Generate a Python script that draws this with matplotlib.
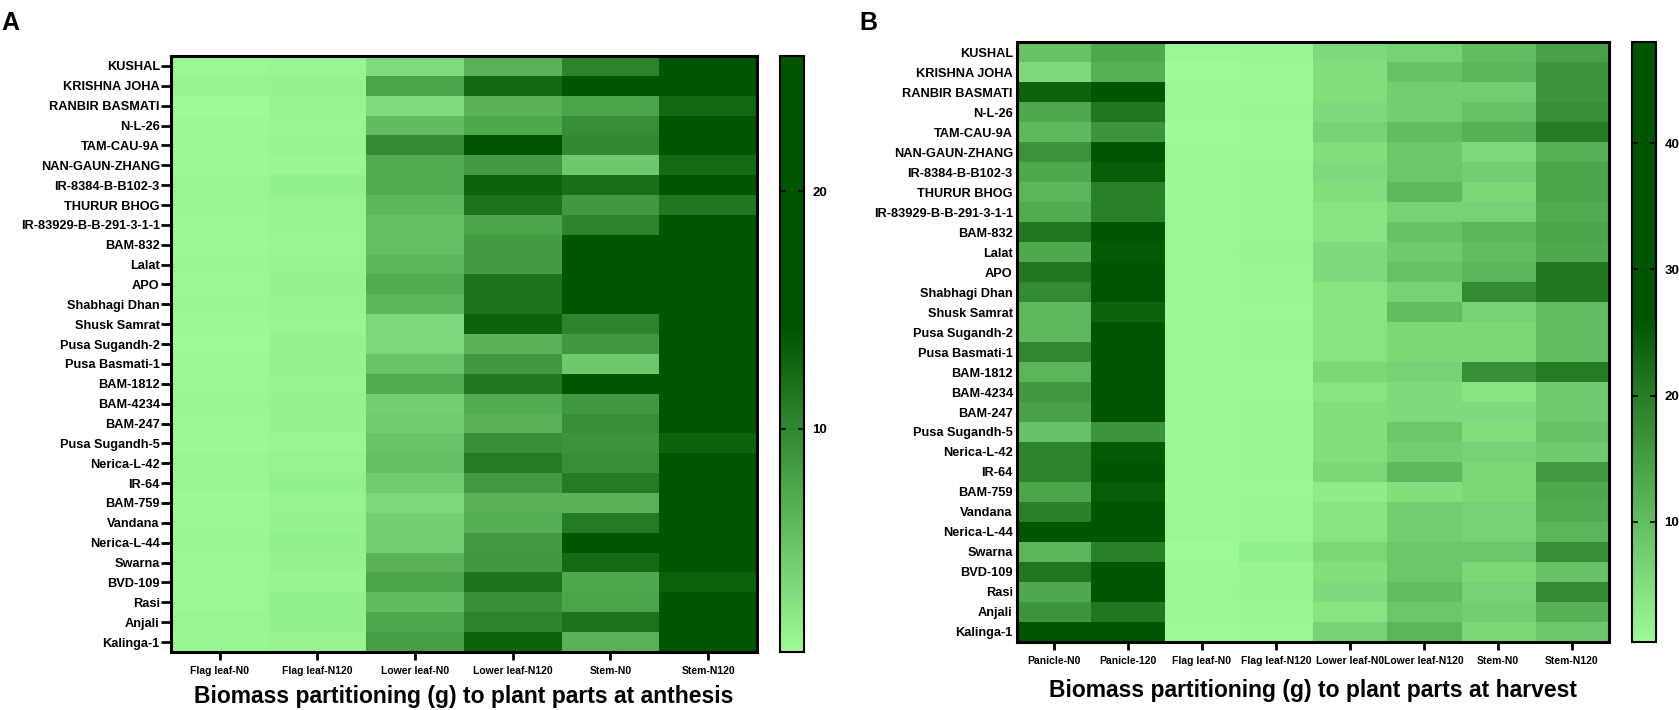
import matplotlib
matplotlib.use('Agg')
import matplotlib.pyplot as plt
import numpy as np
from matplotlib.colors import LinearSegmentedColormap, Normalize

plt.rcParams['font.family'] = ['Liberation Sans Narrow', 'Liberation Sans', 'DejaVu Sans']
plt.rcParams['font.weight'] = 'bold'

genotypes = ['KUSHAL', 'KRISHNA JOHA', 'RANBIR BASMATI', 'N-L-26', 'TAM-CAU-9A',
             'NAN-GAUN-ZHANG', 'IR-8384-B-B102-3', 'THURUR BHOG', 'IR-83929-B-B-291-3-1-1',
             'BAM-832', 'Lalat', 'APO', 'Shabhagi Dhan', 'Shusk Samrat', 'Pusa Sugandh-2',
             'Pusa Basmati-1', 'BAM-1812', 'BAM-4234', 'BAM-247', 'Pusa Sugandh-5',
             'Nerica-L-42', 'IR-64', 'BAM-759', 'Vandana', 'Nerica-L-44', 'Swarna',
             'BVD-109', 'Rasi', 'Anjali', 'Kalinga-1']

# ---- anthesis (panel A) ----
parts_anthesis = ['Flag leaf-N0', 'Flag leaf-N120', 'Lower leaf-N0', 'Lower leaf-N120',
                  'Stem-N0', 'Stem-N120']
a_flag_n0 = [0.8, 1.2, 0.6, 0.7, 0.8, 0.7, 1.0, 0.9, 0.8, 0.7, 0.9, 0.8, 0.9, 0.7, 0.6,
             0.7, 0.8, 0.9, 0.8, 0.7, 1.0, 0.9, 0.7, 0.8, 0.9, 0.8, 0.7, 0.8, 1.0, 0.9]
a_flag_n120 = [1.0, 1.3, 1.1, 1.0, 1.1, 0.9, 1.4, 1.2, 1.1, 1.0, 1.2, 1.3, 1.2, 1.0, 1.3,
               1.3, 1.2, 1.3, 1.3, 1.0, 1.2, 1.4, 1.2, 1.3, 1.4, 1.3, 1.1, 1.5, 1.4, 1.2]
a_lower_n0 = [3.1, 7.7, 3.1, 5.7, 9.7, 7.1, 7.1, 6.0, 5.5, 5.5, 6.0, 7.1, 6.0, 3.4, 3.4,
              5.1, 7.1, 4.2, 4.4, 5.1, 5.5, 4.4, 3.4, 4.2, 4.2, 6.4, 7.7, 5.7, 7.3, 8.1]
a_lower_n120 = [6.4, 12.5, 6.4, 7.3, 14.2, 8.4, 13.0, 11.6, 7.7, 8.4, 8.4, 11.6, 11.6, 13.0, 6.4,
                8.6, 11.2, 7.1, 6.4, 9.4, 11.0, 8.4, 6.4, 6.8, 8.4, 8.6, 11.6, 9.4, 10.3, 13.0]
a_stem_n0 = [10.3, 15.8, 7.7, 9.4, 9.9, 4.7, 12.0, 8.6, 10.3, 17.5, 16.2, 18.4, 16.9, 10.3, 8.6,
             4.7, 15.1, 8.6, 9.4, 9.0, 9.4, 11.0, 6.4, 11.0, 14.6, 12.3, 7.3, 7.7, 11.6, 6.4]
a_stem_n120 = [20.5, 22.4, 12.5, 19.8, 21.3, 12.3, 14.8, 11.2, 18.6, 23.1, 21.7, 24.5, 22.9, 20.1, 19.4,
               25.7, 23.6, 21.0, 18.2, 13.0, 17.8, 19.1, 20.8, 16.9, 18.8, 22.0, 13.1, 17.2, 19.6, 21.4]

# ---- harvest (panel B) ----
parts_harvest = ['Panicle-N0', 'Panicle-120', 'Flag leaf-N0', 'Flag leaf-N120',
                 'Lower leaf-N0', 'Lower leaf-N120', 'Stem-N0', 'Stem-N120']
h_panicle_n0 = [9.3, 5.4, 23.9, 13.2, 10.6, 16.2, 13.2, 11.1, 12.6, 20.9, 13.2, 20.9, 17.8, 10.6, 10.6,
                18.3, 11.1, 15.7, 14.4, 9.3, 18.8, 18.8, 13.7, 19.6, 31.5, 11.1, 20.9, 13.2, 16.2, 33.8]
h_panicle_120 = [13.2, 11.9, 40.2, 20.9, 16.2, 35.6, 24.7, 19.6, 19.6, 42.3, 25.5, 38.4, 36.9, 23.9, 44.1,
                 39.7, 48.0, 41.5, 37.2, 16.2, 25.5, 30.6, 24.7, 34.2, 43.0, 19.6, 38.8, 45.6, 20.9, 36.3]
h_flag_n0 = [0.9, 0.6, 0.7, 0.8, 0.5, 0.7, 0.9, 0.8, 0.9, 1.0, 0.9, 0.8, 0.9, 0.7, 0.8,
             0.9, 0.8, 0.7, 0.9, 0.8, 1.0, 0.9, 0.7, 0.9, 1.0, 0.5, 0.8, 0.9, 0.8, 0.6]
h_flag_n120 = [1.2, 0.8, 1.0, 1.1, 0.9, 1.0, 1.2, 1.1, 1.3, 1.2, 1.6, 1.3, 1.1, 1.0, 1.1,
               1.2, 1.0, 1.0, 1.1, 1.2, 1.3, 1.2, 1.0, 1.3, 1.4, 2.2, 1.5, 1.6, 1.4, 0.9]
h_lower_n0 = [5.4, 4.9, 4.9, 5.4, 6.7, 4.9, 5.4, 4.9, 4.2, 4.2, 5.4, 5.4, 4.2, 4.2, 4.2,
              4.2, 6.0, 4.2, 4.9, 4.9, 4.9, 6.0, 2.9, 4.2, 4.2, 6.0, 4.9, 5.4, 4.2, 6.7]
h_lower_n120 = [6.7, 9.3, 7.5, 7.5, 10.1, 8.5, 8.5, 10.6, 6.7, 9.3, 8.0, 9.3, 6.7, 10.1, 6.0,
                6.0, 6.7, 5.4, 5.4, 8.5, 7.5, 10.6, 4.9, 7.5, 7.5, 8.5, 8.5, 10.1, 8.5, 11.1]
h_stem_n0 = [10.1, 11.1, 7.5, 9.3, 11.9, 5.4, 7.5, 6.0, 6.7, 11.1, 10.1, 11.1, 17.8, 6.7, 6.0,
             6.0, 17.0, 4.2, 5.4, 4.9, 6.7, 6.0, 6.0, 6.7, 6.7, 8.5, 6.0, 6.7, 7.5, 6.0]
h_stem_n120 = [14.4, 16.2, 16.2, 17.0, 20.3, 11.9, 13.7, 13.7, 12.6, 13.7, 13.2, 20.9, 20.9, 10.1, 10.1,
               10.1, 20.3, 8.0, 8.0, 9.3, 8.0, 15.2, 13.2, 12.6, 11.1, 17.0, 9.3, 17.8, 11.9, 8.5]

anthesis = np.column_stack([a_flag_n0, a_flag_n120, a_lower_n0, a_lower_n120, a_stem_n0, a_stem_n120])
harvest = np.column_stack([h_panicle_n0, h_panicle_120, h_flag_n0, h_flag_n120,
                           h_lower_n0, h_lower_n120, h_stem_n0, h_stem_n120])

# light green -> dark green, saturating a bit past half of the range (Prism style)
cmap = LinearSegmentedColormap.from_list('greens', [(0.0, '#9cfb98'), (0.54, '#005500'), (1.0, '#005500')])

fig = plt.figure(figsize=(16.79, 7.10), dpi=100)


def draw_panel(rect, cbar_rect, data, xlabels, title, cticks, yticks_on, title_y):
    ax = fig.add_axes(rect)
    norm = Normalize(vmin=data.min(), vmax=data.max())
    im = ax.imshow(data, aspect='auto', cmap=cmap, norm=norm, interpolation='nearest')
    ax.set_xticks(range(len(xlabels)))
    ax.set_xticklabels(xlabels, fontsize=7.5, fontweight='bold')
    ax.set_yticks(range(len(genotypes)))
    ax.set_yticklabels(genotypes, fontsize=9.2, fontweight='bold')
    ax.tick_params(axis='x', length=6, width=2, pad=4)
    if yticks_on:
        ax.tick_params(axis='y', length=7, width=2, pad=1)
    else:
        ax.tick_params(axis='y', length=0, pad=3)
    for s in ax.spines.values():
        s.set_linewidth(2.2)
    ax.set_xlabel(title, fontsize=16.5, fontweight='bold')
    ax.xaxis.set_label_coords(0.5, title_y)

    cax = fig.add_axes(cbar_rect)
    cb = fig.colorbar(im, cax=cax, ticks=cticks)
    cb.outline.set_linewidth(1.5)
    cb.ax.tick_params(direction='in', left=True, right=True, length=4, width=1.2,
                      labelsize=9.5, pad=6)
    for t in cb.ax.get_yticklabels():
        t.set_fontweight('bold')
    return ax


draw_panel([0.1018, 0.0817, 0.349, 0.8394], [0.4646, 0.0817, 0.0143, 0.8394],
           anthesis, parts_anthesis, 'Biomass partitioning (g) to plant parts at anthesis',
           [10, 20], True, -0.056)
draw_panel([0.6057, 0.0958, 0.3526, 0.845], [0.972, 0.0958, 0.0143, 0.845],
           harvest, parts_harvest, 'Biomass partitioning (g) to plant parts at harvest',
           [10, 20, 30, 40], False, -0.062)

fig.text(0.001, 0.985, 'A', fontsize=18, fontweight='bold', va='top', ha='left')
fig.text(0.512, 0.985, 'B', fontsize=18, fontweight='bold', va='top', ha='left')

fig.savefig('out.png', dpi=100)
